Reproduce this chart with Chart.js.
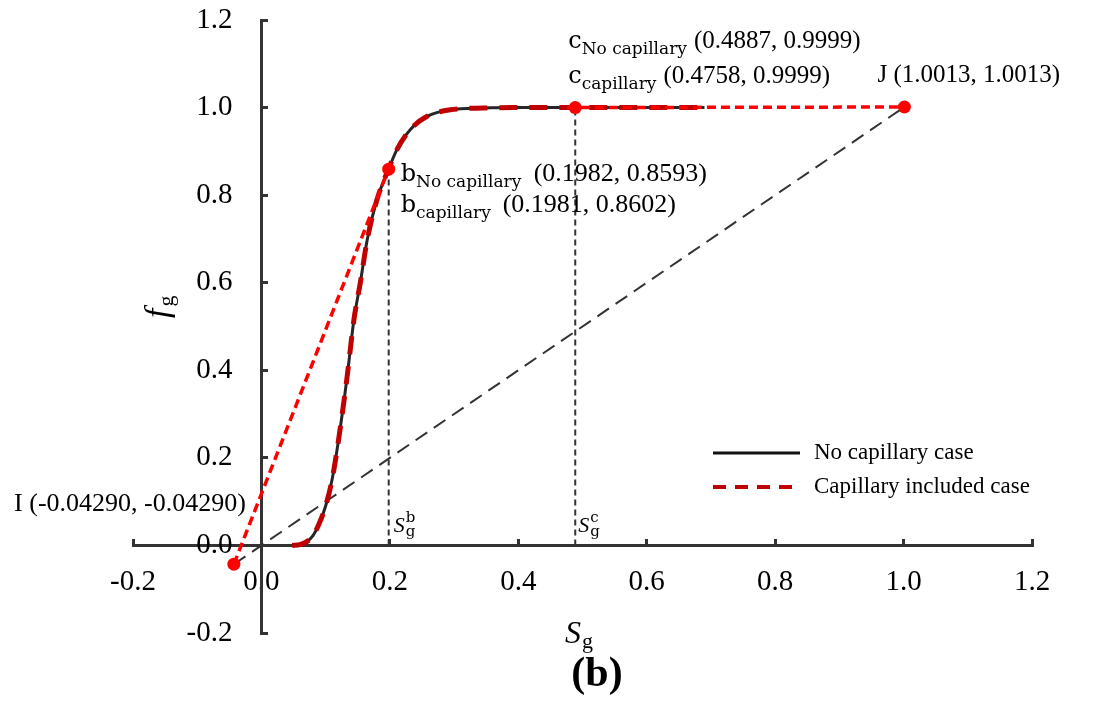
<!DOCTYPE html>
<html>
<head>
<meta charset="utf-8">
<script src="https://cdn.jsdelivr.net/npm/chart.js@4.4.0/dist/chart.umd.min.js"></script>
<style>
html,body{margin:0;padding:0;background:#fff;}
#wrap{width:1099px;height:705px;position:relative;}
</style>
</head>
<body>
<div id="wrap"><canvas id="c"></canvas></div>
<script>
// ---- data ----
const xTicks = [-0.2, 0.0, 0.2, 0.4, 0.6, 0.8, 1.0, 1.2];
const yTicks = [-0.2, 0.0, 0.2, 0.4, 0.6, 0.8, 1.0, 1.2];

const sgNoCap = [0.048, 0.06, 0.07, 0.08, 0.09, 0.10, 0.11, 0.12, 0.133, 0.144, 0.154, 0.165, 0.18, 0.198, 0.211, 0.232, 0.258, 0.294, 0.346, 0.40, 0.50, 0.60, 0.69];
const fgNoCap = [0.0, 0.002, 0.008, 0.022, 0.05, 0.09, 0.15, 0.24, 0.38, 0.515, 0.60, 0.70, 0.79, 0.859, 0.904, 0.95, 0.98, 0.995, 0.999, 1.0, 1.0, 1.0, 1.0];
const sgCap   = [0.048, 0.06, 0.07, 0.08, 0.09, 0.10, 0.11, 0.12, 0.133, 0.144, 0.154, 0.165, 0.18, 0.198, 0.211, 0.232, 0.258, 0.294, 0.346, 0.40, 0.50, 0.60, 0.69];
const fgCap   = [0.0, 0.002, 0.008, 0.022, 0.05, 0.09, 0.15, 0.24, 0.38, 0.515, 0.60, 0.70, 0.79, 0.86, 0.904, 0.95, 0.98, 0.995, 0.999, 1.0, 1.0, 1.0, 1.0];

const pointI = {x: -0.0429, y: -0.0429};
const pointJ = {x: 1.0013, y: 1.0013};
const bNoCap = {x: 0.1982, y: 0.8593};
const bCap   = {x: 0.1981, y: 0.8602};
const cNoCap = {x: 0.4887, y: 0.9999};
const cCap   = {x: 0.4758, y: 0.9999};

const seriesNames = ['No capillary case', 'Capillary included case'];

const toXY = (xs, ys) => xs.map((x, i) => ({x: x, y: ys[i]}));

// ---- annotation / legend plugin ----
const SERIF = '"Liberation Serif", "Times New Roman", serif';
const CAMB = '"DejaVu Serif", serif';

const annot = {
  id: 'annot',
  afterDraw(chart) {
    const ctx = chart.ctx;
    const xs = chart.scales.x, ys = chart.scales.y;
    const px = v => xs.getPixelForValue(v);
    const py = v => ys.getPixelForValue(v);
    ctx.save();
    ctx.fillStyle = '#000';
    ctx.textBaseline = 'alphabetic';
    ctx.textAlign = 'left';

    function row(x, y, main, sub, nums, numX, numSize) {
      ctx.font = '24px ' + CAMB;
      ctx.fillText(main, x, y);
      const w = ctx.measureText(main).width;
      ctx.font = '17px ' + CAMB;
      ctx.fillText(sub, x + w, y + 6);
      const subEnd = x + w + ctx.measureText(sub).width;
      ctx.font = numSize + 'px ' + SERIF;
      ctx.fillText(nums, Math.max(numX, subEnd + 7), y);
    }
    // b labels
    const bx = px(bNoCap.x), by = py(bNoCap.y);
    row(bx + 12, by + 12, 'b', 'No capillary', '(0.1982, 0.8593)', bx + 145, 26);
    row(bx + 12, by + 43, 'b', 'capillary', '(0.1981, 0.8602)', bx + 114, 26);
    // c labels
    const cx = px(cNoCap.x), cy = py(cNoCap.y);
    row(cx - 7, cy - 60, 'c', 'No capillary', '(0.4887, 0.9999)', cx + 117, 25);
    row(cx - 7, cy - 25, 'c', 'capillary', '(0.4758, 0.9999)', cx + 87, 25);
    // J label
    ctx.font = '25px ' + SERIF;
    ctx.fillText('J (1.0013, 1.0013)', px(pointJ.x) - 27, py(pointJ.y) - 25);
    // I label
    ctx.textAlign = 'right';
    ctx.font = '26px ' + SERIF;
    ctx.fillText('I (-0.04290, -0.04290)', px(pointI.x) + 12, py(pointI.y) - 53);
    ctx.textAlign = 'left';

    // S_g^b and S_g^c
    function sgLabel(x, y, sup) {
      ctx.font = 'italic 22px ' + SERIF;
      ctx.fillText('S', x, y);
      const w = ctx.measureText('S').width;
      ctx.font = '15px ' + CAMB;
      ctx.fillText(sup, x + w + 1, y - 10);
      ctx.fillText('g', x + w + 1, y + 4);
    }
    sgLabel(px(bNoCap.x) + 5, py(0) - 13, 'b');
    sgLabel(px(cNoCap.x) + 3, py(0) - 13, 'c');

    // x axis title
    ctx.font = 'italic 32px ' + SERIF;
    ctx.fillText('S', 565, 643);
    let w = ctx.measureText('S').width;
    ctx.font = '22px ' + SERIF;
    ctx.fillText('g', 565 + w + 1, 648);

    // y axis title (rotated)
    ctx.save();
    ctx.translate(168, 318);
    ctx.rotate(-Math.PI / 2);
    ctx.font = 'italic 34px ' + SERIF;
    ctx.fillText('f', 0, 0);
    w = ctx.measureText('f').width;
    ctx.font = '22px ' + SERIF;
    ctx.fillText('g', w + 2, 5);
    ctx.restore();

    // (b)
    ctx.textAlign = 'center';
    ctx.font = 'bold 42px ' + SERIF;
    ctx.fillText('(b)', 597, 686);

    // legend
    ctx.textAlign = 'left';
    ctx.textBaseline = 'middle';
    ctx.lineCap = 'butt';
    ctx.strokeStyle = '#111';
    ctx.lineWidth = 3;
    ctx.setLineDash([]);
    ctx.beginPath(); ctx.moveTo(713, 453); ctx.lineTo(800, 453); ctx.stroke();
    ctx.strokeStyle = '#c00000';
    ctx.lineWidth = 4;
    ctx.setLineDash([13, 9]);
    ctx.beginPath(); ctx.moveTo(713, 487); ctx.lineTo(800, 487); ctx.stroke();
    ctx.setLineDash([]);
    ctx.font = '23px ' + SERIF;
    ctx.fillText(seriesNames[0], 814, 453);
    ctx.fillText(seriesNames[1], 814, 487);
    ctx.restore();
  }
};

const axisFont = {family: SERIF, size: 29};
const noPad = s => { s.paddingTop = 0; s.paddingBottom = 0; s.paddingLeft = 0; s.paddingRight = 0; };

new Chart(document.getElementById('c'), {
  type: 'scatter',
  data: {
    datasets: [
      { label: 'points', data: [pointI, bNoCap, cNoCap, pointJ], showLine: false,
        pointRadius: 6.5, pointBackgroundColor: '#ff0000', pointBorderColor: '#ff0000', pointBorderWidth: 0 },
      { label: 'tangent', data: [pointI, bCap], showLine: true, borderColor: '#ff0000',
        borderWidth: 3.5, borderDash: [9, 5], pointRadius: 0 },
      { label: 'plateau', data: [cCap, pointJ], showLine: true, borderColor: '#ff0000',
        borderWidth: 3.5, borderDash: [9, 5], pointRadius: 0 },
      { label: seriesNames[1], data: toXY(sgCap, fgCap), showLine: true, borderColor: '#c00000',
        borderWidth: 5, borderDash: [18, 12], pointRadius: 0, cubicInterpolationMode: 'monotone', tension: 0.4 },
      { label: seriesNames[0], data: toXY(sgNoCap, fgNoCap), showLine: true, borderColor: '#262626',
        borderWidth: 3, pointRadius: 0, cubicInterpolationMode: 'monotone', tension: 0.4 },
      { label: 'diagonal', data: [pointI, pointJ], showLine: true, borderColor: '#333',
        borderWidth: 2, borderDash: [14, 8], pointRadius: 0 },
      { label: 'vb', data: [{x: bNoCap.x, y: 0}, {x: bNoCap.x, y: bNoCap.y}], showLine: true,
        borderColor: '#333', borderWidth: 2, borderDash: [6, 4], pointRadius: 0 },
      { label: 'vc', data: [{x: cNoCap.x, y: 0}, {x: cNoCap.x, y: cNoCap.y}], showLine: true,
        borderColor: '#333', borderWidth: 2, borderDash: [6, 4], pointRadius: 0 }
    ]
  },
  options: {
    responsive: true,
    maintainAspectRatio: false,
    animation: false,
    layout: {padding: {left: 133, right: 67, top: 20, bottom: 72}},
    plugins: {legend: {display: false}, tooltip: {enabled: false}},
    scales: {
      x: {
        type: 'linear', min: -0.2, max: 1.2, position: {y: 0},
        afterBuildTicks: s => { s.ticks = xTicks.map(v => ({value: v})); },
        afterFit: noPad,
        ticks: {callback: v => Number(v).toFixed(1), font: axisFont, color: '#000', padding: 28,
                maxRotation: 0, autoSkip: false},
        grid: {drawOnChartArea: false, drawTicks: true, tickLength: -8, tickWidth: 3, tickColor: '#333'},
        border: {display: true, color: '#333', width: 3}
      },
      y: {
        type: 'linear', min: -0.2, max: 1.2, position: {x: 0},
        afterBuildTicks: s => { s.ticks = yTicks.map(v => ({value: v})); },
        afterFit: noPad,
        ticks: {callback: v => Number(v).toFixed(1) + '    ', font: axisFont, color: '#000', padding: 0,
                autoSkip: false},
        grid: {drawOnChartArea: false, drawTicks: true, tickLength: -8, tickWidth: 3, tickColor: '#333'},
        border: {display: true, color: '#333', width: 3}
      }
    }
  },
  plugins: [annot]
});
</script>
</body>
</html>
